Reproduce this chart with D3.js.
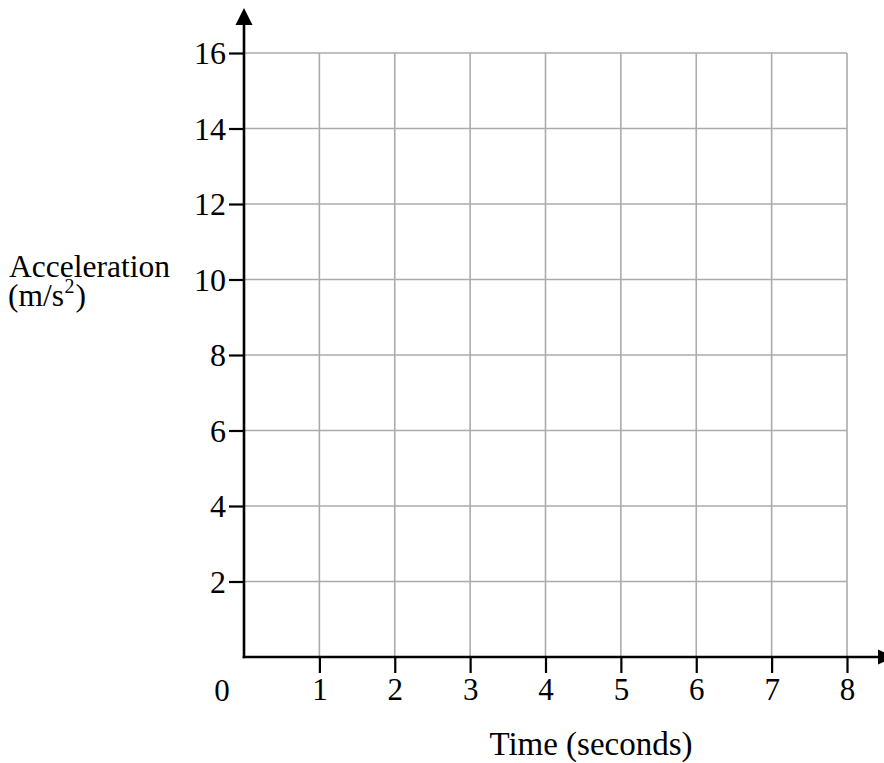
<!DOCTYPE html>
<html>
<head>
<meta charset="utf-8">
<script src="https://cdn.jsdelivr.net/npm/d3@7"></script>
<style>
  html, body { margin: 0; padding: 0; background: #fff; }
  svg { display: block; }
  text { font-family: "Liberation Serif", "Times New Roman", serif; fill: #000; }
</style>
</head>
<body>
<div id="chart"></div>
<script>
// Data (empty grid: only axes and tick labels)
const xTicks = [1, 2, 3, 4, 5, 6, 7, 8];
const yTicks = [2, 4, 6, 8, 10, 12, 14, 16];
const xDomain = [0, 8];
const yDomain = [0, 16];
const xTitle = "Time (seconds)";
const yTitleLine1 = "Acceleration";
const yTitleUnit = ["(m/s", "2", ")"];
const originLabel = "0";

const W = 884, H = 763;
const svg = d3.select("#chart").append("svg").attr("width", W).attr("height", H);

const x = d3.scaleLinear().domain(xDomain).range([244, 847]);
const y = d3.scaleLinear().domain(yDomain).range([657, 53]);

// Grid
const grid = svg.append("g").attr("stroke", "#ababab").attr("stroke-width", 1.6);
grid.selectAll("line.h").data(yTicks).join("line")
  .attr("x1", x(0)).attr("x2", x(8))
  .attr("y1", d => y(d)).attr("y2", d => y(d));
grid.selectAll("line.v").data(xTicks).join("line")
  .attr("y1", y(0)).attr("y2", y(16))
  .attr("x1", d => x(d)).attr("x2", d => x(d));

// Axes
const yAxis = d3.axisLeft(y).tickValues(yTicks).tickSize(15).tickPadding(3).tickFormat(d3.format("d"));
const xAxis = d3.axisBottom(x).tickValues(xTicks).tickSize(16).tickPadding(6).tickFormat(d3.format("d"));

const gy = svg.append("g").attr("transform", `translate(${x(0)},0)`).call(yAxis);
const gx = svg.append("g").attr("transform", `translate(0,${y(0)})`).call(xAxis);
[gy, gx].forEach(g => {
  g.select(".domain").remove();
  g.selectAll(".tick line").attr("stroke", "#000").attr("stroke-width", 2.2);
  g.selectAll(".tick text").attr("fill", "#000");
});
gy.selectAll(".tick text").attr("font-size", 32).attr("dy", "0.33em");
gx.selectAll(".tick text").attr("font-size", 31).attr("dy", "0.68em");

// Axis lines with arrowheads
svg.append("line").attr("x1", x(0)).attr("x2", x(0)).attr("y1", y(0) + 1.3).attr("y2", 22)
  .attr("stroke", "#000").attr("stroke-width", 2.6);
svg.append("line").attr("x1", x(0) - 1.3).attr("x2", 880).attr("y1", y(0)).attr("y2", y(0))
  .attr("stroke", "#000").attr("stroke-width", 2.6);
svg.append("path").attr("d", `M${x(0)},8 L${x(0) - 8.5},25 L${x(0) + 8.5},25 Z`).attr("fill", "#000");
svg.append("path").attr("d", `M878,${y(0) - 7.5} L894,${y(0)} L878,${y(0) + 7.5} Z`).attr("fill", "#000");

// Origin label
svg.append("text").attr("x", 222).attr("y", 701).attr("text-anchor", "middle")
  .attr("font-size", 31).text(originLabel);

// Titles
svg.append("text").attr("x", 9).attr("y", 277).attr("font-size", 31.5).text(yTitleLine1);
const u1 = svg.append("text").attr("x", 8).attr("y", 306).attr("font-size", 31.5).text(yTitleUnit[0]);
const w1 = u1.node().getComputedTextLength();
const u2 = svg.append("text").attr("x", 8 + w1 + 0.5).attr("y", 293).attr("font-size", 20).text(yTitleUnit[1]);
const w2 = u2.node().getComputedTextLength();
svg.append("text").attr("x", 8 + w1 + w2 + 1.5).attr("y", 306).attr("font-size", 31.5).text(yTitleUnit[2]);

svg.append("text").attr("x", 591).attr("y", 755).attr("text-anchor", "middle")
  .attr("font-size", 33).text(xTitle);
</script>
</body>
</html>
